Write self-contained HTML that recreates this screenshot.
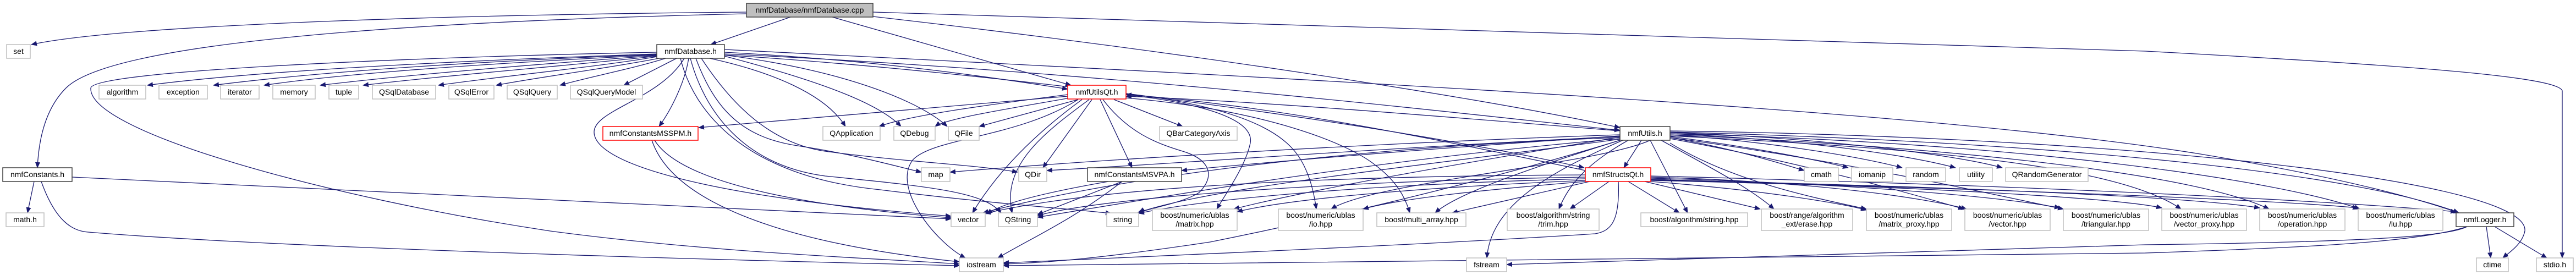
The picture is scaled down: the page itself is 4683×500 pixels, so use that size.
<!DOCTYPE html>
<html><head><meta charset="utf-8"><style>
html,body{margin:0;padding:0;background:#fff;}
svg{display:block;}
text{font-family:"Liberation Sans",Helvetica,sans-serif;font-size:14px;fill:#000;text-anchor:middle;}
.e{fill:none;stroke:#191970;stroke-width:1.3;marker-end:url(#a);}
.g{fill:#fff;stroke:#bfbfbf;stroke-width:1.5;}
.b{fill:#fff;stroke:#404040;stroke-width:1.5;}
.r{fill:#fff;stroke:#ff0000;stroke-width:1.5;}
.c{fill:#bfbfbf;stroke:#404040;stroke-width:1.5;}
</style></head><body>
<svg width="4683" height="500" viewBox="0 0 4683 500" xmlns="http://www.w3.org/2000/svg">
<defs><marker id="a" markerUnits="userSpaceOnUse" markerWidth="11" markerHeight="9" refX="10" refY="4.5" orient="auto"><path d="M0,0 L11,4.5 L0,9 z" fill="#191970"/></marker></defs>
<g>
<!-- cpp edges -->
<path class="e" d="M1357,22 C700,28 200,50 57,81"/>
<path class="e" d="M1357,25 C700,40 200,80 120,160 C80,200 70,260 68,305"/>
<path class="e" d="M1437,31 L1292,81"/>
<path class="e" d="M1513,31 L1947,155"/>
<path class="e" d="M1587,30 C2200,100 2700,180 2945,232"/>
<path class="e" d="M1587,22 L3900,93 C4400,120 4650,140 4658,165 L4658,469"/>
<!-- nmfDatabase.h edges -->
<path class="e" d="M1194,98 C900,108 500,125 268,155"/>
<path class="e" d="M1194,99 C900,110 600,128 388,155"/>
<path class="e" d="M1194,100 C950,112 650,130 480,155"/>
<path class="e" d="M1194,101 C1000,115 750,135 582,155"/>
<path class="e" d="M1194,102 C1050,118 800,138 660,155"/>
<path class="e" d="M1194,103 C1100,120 900,140 797,155"/>
<path class="e" d="M1198,106 C1100,125 980,140 902,155"/>
<path class="e" d="M1210,106 C1150,125 1070,140 1018,155"/>
<path class="e" d="M1230,106 L1134,155"/>
<path class="e" d="M1252,106 C1245,150 1220,200 1198,230"/>
<path class="e" d="M1244,106 C1200,180 1080,200 1080,240 C1080,300 1300,360 1729,393"/>
<path class="e" d="M1194,95 C700,105 170,130 165,160 C160,240 600,360 1000,420 C1300,460 1600,470 1744,480"/>
<path class="e" d="M1290,106 C1400,130 1500,170 1537,230"/>
<path class="e" d="M1317,95 C1600,110 1800,140 1941,162"/>
<path class="e" d="M1317,90 C2500,150 3500,200 4000,280 C4300,330 4420,370 4470,387"/>
<path class="e" d="M1317,98 C2000,130 2600,200 2945,237"/>
<path class="e" d="M1317,100 C1800,130 2500,220 2880,305"/>
<path class="e" d="M1317,102 C1500,150 1600,190 1638,230"/>
<path class="e" d="M1317,100 C1550,130 1680,190 1722,230"/>
<path class="e" d="M1265,106 C1300,200 1350,250 1450,265 C1550,280 1620,300 1675,313"/>
<path class="e" d="M1275,106 C1330,190 1400,260 1500,275 C1650,295 1780,300 1850,313"/>
<path class="e" d="M1255,106 C1280,200 1350,300 1500,320 C1700,340 1790,350 1820,387"/>
<path class="e" d="M1237,106 C1260,200 1350,320 1600,345 C1800,370 1950,380 2020,388"/>
<!-- nmfConstants.h -->
<path class="e" d="M62,330 L50,387"/>
<path class="e" d="M131,322 L1729,398"/>
<path class="e" d="M75,330 C100,400 130,420 160,422 C500,450 1200,470 1744,483"/>
<!-- nmfConstantsMSSPM.h -->
<path class="e" d="M1190,255 C1230,320 1400,370 1729,396"/>
<path class="e" d="M1185,255 C1220,360 1400,440 1744,476"/>
<!-- nmfUtilsQt.h -->
<path class="e" d="M1941,175 L1270,232"/>
<path class="e" d="M1941,172 C1800,190 1650,210 1598,230"/>
<path class="e" d="M1945,178 C1850,195 1720,215 1700,230"/>
<path class="e" d="M1960,181 L1780,230"/>
<path class="e" d="M1985,181 L1896,305"/>
<path class="e" d="M1967,181 C1900,230 1820,300 1768,387"/>
<path class="e" d="M1980,181 C1900,240 1820,300 1840,387"/>
<path class="e" d="M1960,181 C1850,250 1700,250 1660,290 C1620,340 1700,440 1755,469"/>
<path class="e" d="M2025,181 L2150,230"/>
<path class="e" d="M2000,181 L2058,305"/>
<path class="e" d="M2005,181 C2050,240 2100,260 2150,275 C2200,290 2210,320 2180,350 C2150,370 2080,380 2072,387"/>
<path class="e" d="M2047,172 C2200,190 2280,220 2273,260 C2265,300 2230,350 2212,380"/>
<path class="e" d="M2047,170 C2300,200 2350,260 2370,300 C2385,330 2390,360 2393,380"/>
<path class="e" d="M2047,178 C2300,200 2450,260 2500,300 C2540,330 2555,360 2563,387"/>
<path class="e" d="M2882,310 C2600,250 2300,190 2047,172"/>
<path class="e" d="M2945,238 C2600,210 2300,185 2047,175"/>
<!-- nmfConstantsMSVPA.h -->
<path class="e" d="M2015,330 C1900,350 1820,370 1794,389"/>
<path class="e" d="M2040,330 L1886,390"/>
<path class="e" d="M2040,330 C1950,400 1880,430 1814,469"/>
<!-- nmfUtils.h -->
<path class="e" d="M3036,250 C3150,270 3230,295 3280,310"/>
<path class="e" d="M3036,248 C3200,270 3300,290 3360,305"/>
<path class="e" d="M3036,245 C3250,260 3400,290 3458,305"/>
<path class="e" d="M3036,243 C3300,255 3480,285 3555,305"/>
<path class="e" d="M3036,241 C3300,250 3550,280 3640,305"/>
<path class="e" d="M2984,255 L2952,305"/>
<path class="e" d="M3000,255 L3068,387"/>
<path class="e" d="M2960,255 C2880,300 2850,340 2834,380"/>
<path class="e" d="M2945,255 C2800,300 2650,350 2609,387"/>
<path class="e" d="M2950,255 C2800,320 2710,380 2703,469"/>
<path class="e" d="M3020,255 C3100,300 3180,340 3225,380"/>
<path class="e" d="M3036,260 C3150,330 3300,360 3393,380"/>
<path class="e" d="M3036,252 C3300,300 3500,360 3570,380"/>
<path class="e" d="M3036,250 C3400,300 3650,360 3751,380"/>
<path class="e" d="M3036,247 C3500,270 3850,300 3965,380"/>
<path class="e" d="M3036,245 C3600,270 4000,320 4125,380"/>
<path class="e" d="M3036,243 C3700,260 4150,330 4290,380"/>
<path class="e" d="M3036,240 C3800,260 4300,320 4470,387"/>
<path class="e" d="M3036,238 C3900,250 4600,330 4590,420 C4585,445 4560,460 4550,469"/>
<path class="e" d="M2945,245 C2500,260 2000,290 1727,313"/>
<path class="e" d="M2945,248 C2500,270 2100,300 1903,310"/>
<path class="e" d="M2945,250 C2400,270 2000,330 1787,387"/>
<path class="e" d="M2945,252 C2500,290 2100,360 1886,395"/>
<path class="e" d="M2945,253 C2600,300 2200,340 2068,387"/>
<path class="e" d="M2945,255 C2700,330 2400,400 2200,440 C2000,470 1900,478 1824,480"/>
<path class="e" d="M3000,255 C2900,300 2500,330 2420,380"/>
<path class="e" d="M2945,247 C2600,270 2300,295 2148,310"/>
<path class="e" d="M2945,249 C2700,290 2400,340 2243,380"/>
<!-- nmfStructsQt.h -->
<path class="e" d="M2890,330 L2640,387"/>
<path class="e" d="M2925,330 L2854,380"/>
<path class="e" d="M2960,330 L3053,387"/>
<path class="e" d="M2990,330 L3200,380"/>
<path class="e" d="M2942,330 C2945,400 2930,420 2900,425 C2600,445 2000,470 1824,478"/>
<path class="e" d="M2882,318 C2400,320 2000,340 1791,388"/>
<path class="e" d="M2882,322 C2400,330 2000,360 1886,392"/>
<path class="e" d="M2882,325 C2500,335 2200,360 2070,388"/>
<path class="e" d="M2882,328 C2600,340 2350,360 2249,385"/>
<path class="e" d="M2882,330 C2700,345 2550,360 2478,380"/>
<path class="e" d="M3001,322 C3300,330 3500,360 3575,380"/>
<path class="e" d="M3001,324 C3400,335 3650,360 3745,378"/>
<path class="e" d="M3001,326 C3500,340 3850,360 3930,378"/>
<path class="e" d="M3001,327 C3600,340 4000,360 4108,378"/>
<path class="e" d="M3001,328 C3700,345 4150,365 4287,378"/>
<path class="e" d="M3001,320 C3800,340 4300,370 4465,385"/>
<path class="e" d="M3001,330 C3200,345 3350,370 3393,382"/>
<!-- nmfLogger.h -->
<path class="e" d="M4485,412 C4450,430 4300,440 3900,445 L2739,481"/>
<path class="e" d="M4485,412 C4400,440 4200,450 3900,460 C3000,475 2200,480 1824,483"/>
<path class="e" d="M4520,412 L4528,469"/>
<path class="e" d="M4535,412 L4630,469"/>
</g>
<g>
<rect class="c" x="1357" y="6" width="230" height="25"/><text x="1472" y="23">nmfDatabase/nmfDatabase.cpp</text>
<rect class="g" x="12" y="81" width="43" height="25"/><text x="33.5" y="98">set</text>
<rect class="b" x="1194" y="81" width="123" height="25"/><text x="1255.5" y="98">nmfDatabase.h</text>
<rect class="g" x="180" y="155" width="85" height="25"/><text x="222.5" y="172">algorithm</text>
<rect class="g" x="289" y="155" width="88" height="25"/><text x="333" y="172">exception</text>
<rect class="g" x="401" y="155" width="70" height="25"/><text x="436" y="172">iterator</text>
<rect class="g" x="496" y="155" width="77" height="25"/><text x="534.5" y="172">memory</text>
<rect class="g" x="598" y="155" width="54" height="25"/><text x="625" y="172">tuple</text>
<rect class="g" x="677" y="155" width="115" height="25"/><text x="734.5" y="172">QSqlDatabase</text>
<rect class="g" x="816" y="155" width="82" height="25"/><text x="857" y="172">QSqlError</text>
<rect class="g" x="922" y="155" width="91" height="25"/><text x="967.5" y="172">QSqlQuery</text>
<rect class="g" x="1037" y="155" width="131" height="25"/><text x="1102.5" y="172">QSqlQueryModel</text>
<rect class="r" x="1941" y="155" width="106" height="25"/><text x="1994" y="172">nmfUtilsQt.h</text>
<rect class="r" x="1096" y="230" width="173" height="25"/><text x="1182.5" y="247">nmfConstantsMSSPM.h</text>
<rect class="g" x="1496" y="230" width="104" height="25"/><text x="1548" y="247">QApplication</text>
<rect class="g" x="1625" y="230" width="75" height="25"/><text x="1662.5" y="247">QDebug</text>
<rect class="g" x="1724" y="230" width="56" height="25"/><text x="1752" y="247">QFile</text>
<rect class="g" x="2108" y="230" width="141" height="25"/><text x="2178.5" y="247">QBarCategoryAxis</text>
<rect class="b" x="2945" y="230" width="91" height="25"/><text x="2990.5" y="247">nmfUtils.h</text>
<rect class="b" x="5" y="305" width="126" height="25"/><text x="68" y="322">nmfConstants.h</text>
<rect class="g" x="1675" y="305" width="52" height="25"/><text x="1701" y="322">map</text>
<rect class="g" x="1852" y="305" width="51" height="25"/><text x="1877.5" y="322">QDir</text>
<rect class="b" x="1977" y="305" width="171" height="25"/><text x="2062.5" y="322">nmfConstantsMSVPA.h</text>
<rect class="r" x="2882" y="305" width="119" height="25"/><text x="2941.5" y="322">nmfStructsQt.h</text>
<rect class="g" x="3280" y="305" width="62" height="25"/><text x="3311" y="322">cmath</text>
<rect class="g" x="3366" y="305" width="75" height="25"/><text x="3403.5" y="322">iomanip</text>
<rect class="g" x="3465" y="305" width="72" height="25"/><text x="3501" y="322">random</text>
<rect class="g" x="3562" y="305" width="60" height="25"/><text x="3592" y="322">utility</text>
<rect class="g" x="3646" y="305" width="150" height="25"/><text x="3721" y="322">QRandomGenerator</text>
<rect class="g" x="11" y="387" width="69" height="25"/><text x="45.5" y="404">math.h</text>
<rect class="g" x="1729" y="387" width="62" height="25"/><text x="1760" y="404">vector</text>
<rect class="g" x="1815" y="387" width="71" height="25"/><text x="1850.5" y="404">QString</text>
<rect class="g" x="2012" y="387" width="58" height="25"/><text x="2041" y="404">string</text>
<rect class="g" x="2095" y="380" width="154" height="39"/><text x="2172" y="396">boost/numeric/ublas</text><text x="2172" y="412">/matrix.hpp</text>
<rect class="g" x="2324" y="380" width="154" height="39"/><text x="2401" y="396">boost/numeric/ublas</text><text x="2401" y="412">/io.hpp</text>
<rect class="g" x="2503" y="387" width="162" height="25"/><text x="2584" y="404">boost/multi_array.hpp</text>
<rect class="g" x="2740" y="380" width="167" height="39"/><text x="2823.5" y="396">boost/algorithm/string</text><text x="2823.5" y="412">/trim.hpp</text>
<rect class="g" x="2983" y="387" width="194" height="25"/><text x="3080" y="404">boost/algorithm/string.hpp</text>
<rect class="g" x="3202" y="380" width="166" height="39"/><text x="3285" y="396">boost/range/algorithm</text><text x="3285" y="412">_ext/erase.hpp</text>
<rect class="g" x="3393" y="380" width="155" height="39"/><text x="3470.5" y="396">boost/numeric/ublas</text><text x="3470.5" y="412">/matrix_proxy.hpp</text>
<rect class="g" x="3572" y="380" width="155" height="39"/><text x="3649.5" y="396">boost/numeric/ublas</text><text x="3649.5" y="412">/vector.hpp</text>
<rect class="g" x="3751" y="380" width="155" height="39"/><text x="3828.5" y="396">boost/numeric/ublas</text><text x="3828.5" y="412">/triangular.hpp</text>
<rect class="g" x="3930" y="380" width="154" height="39"/><text x="4007" y="396">boost/numeric/ublas</text><text x="4007" y="412">/vector_proxy.hpp</text>
<rect class="g" x="4108" y="380" width="155" height="39"/><text x="4185.5" y="396">boost/numeric/ublas</text><text x="4185.5" y="412">/operation.hpp</text>
<rect class="g" x="4287" y="380" width="154" height="39"/><text x="4364" y="396">boost/numeric/ublas</text><text x="4364" y="412">/lu.hpp</text>
<rect class="b" x="4465" y="387" width="105" height="25"/><text x="4517.5" y="404">nmfLogger.h</text>
<rect class="g" x="1744" y="469" width="80" height="25"/><text x="1784" y="486">iostream</text>
<rect class="g" x="2666" y="469" width="73" height="25"/><text x="2702.5" y="486">fstream</text>
<rect class="g" x="4502" y="469" width="58" height="25"/><text x="4531" y="486">ctime</text>
<rect class="g" x="4611" y="469" width="67" height="25"/><text x="4644.5" y="486">stdio.h</text>
</g>
</svg>
</body></html>
